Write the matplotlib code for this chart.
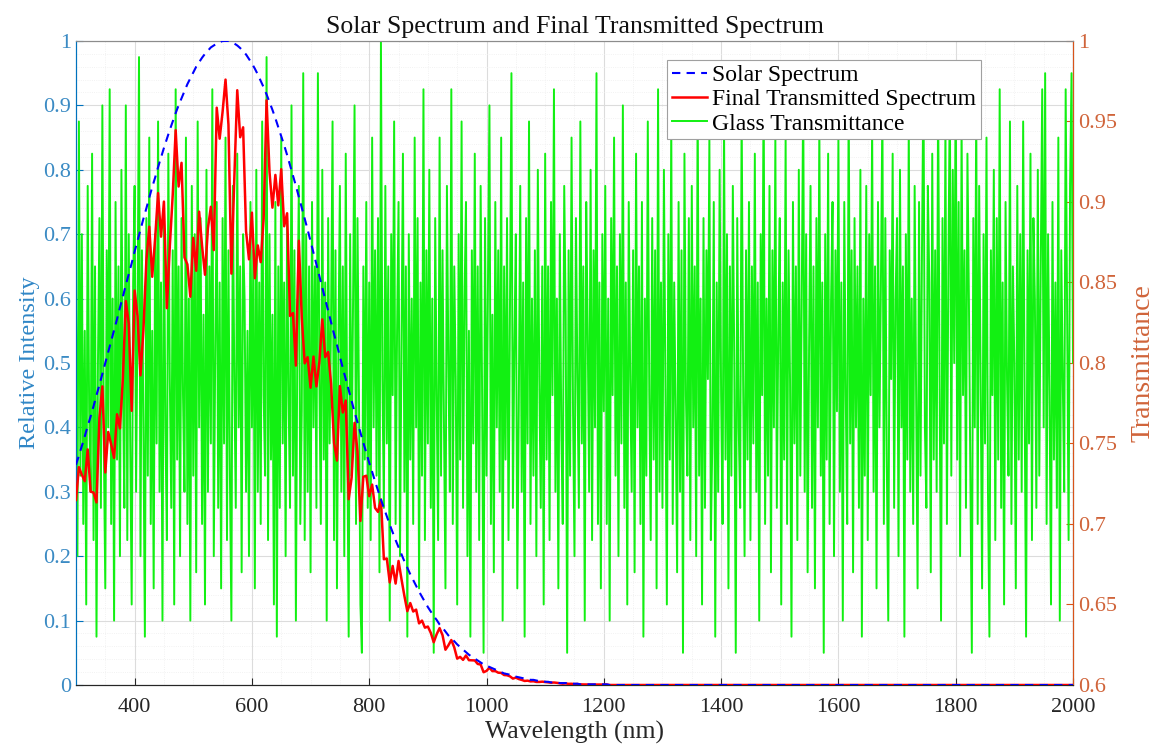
import numpy as np
import matplotlib.pyplot as plt
from matplotlib.ticker import MultipleLocator, FormatStrFormatter

plt.rcParams['font.family'] = ['Liberation Serif', 'DejaVu Serif']

# wavelength grids: 5 nm for the spectra, 2.5 nm for the glass trace
wavelength = np.arange(300, 2001, 5)
wavelength_fine = np.arange(300, 2000.1, 2.5)

# relative solar intensity (300..2000 nm, 5 nm steps)
solar = [
    0.342, 0.356, 0.371, 0.386, 0.402, 0.417, 0.433, 0.450, 0.466, 0.483,
    0.500, 0.517, 0.534, 0.551, 0.568, 0.586, 0.603, 0.621, 0.638, 0.655,
    0.673, 0.690, 0.707, 0.724, 0.740, 0.757, 0.773, 0.788, 0.804, 0.819,
    0.834, 0.848, 0.862, 0.875, 0.888, 0.900, 0.911, 0.922, 0.933, 0.942,
    0.951, 0.960, 0.967, 0.974, 0.980, 0.985, 0.990, 0.993, 0.996, 0.998,
    1.000, 1.000, 1.000, 0.998, 0.996, 0.993, 0.989, 0.984, 0.979, 0.972,
    0.965, 0.957, 0.948, 0.938, 0.928, 0.917, 0.905, 0.893, 0.880, 0.866,
    0.852, 0.838, 0.823, 0.807, 0.791, 0.775, 0.758, 0.741, 0.724, 0.707,
    0.689, 0.671, 0.653, 0.635, 0.617, 0.599, 0.581, 0.563, 0.545, 0.528,
    0.510, 0.492, 0.475, 0.458, 0.441, 0.424, 0.408, 0.392, 0.376, 0.361,
    0.345, 0.331, 0.316, 0.302, 0.288, 0.275, 0.262, 0.249, 0.237, 0.225,
    0.214, 0.203, 0.192, 0.182, 0.172, 0.163, 0.154, 0.145, 0.137, 0.129,
    0.121, 0.114, 0.107, 0.101, 0.094, 0.089, 0.083, 0.077, 0.072, 0.068,
    0.063, 0.059, 0.055, 0.051, 0.047, 0.044, 0.041, 0.038, 0.035, 0.032,
    0.030, 0.028, 0.026, 0.024, 0.022, 0.020, 0.018, 0.017, 0.016, 0.014,
    0.013, 0.012, 0.011, 0.010, 0.009, 0.008, 0.008, 0.007, 0.006, 0.006,
    0.005, 0.005, 0.004, 0.004, 0.004, 0.003, 0.003, 0.003, 0.002, 0.002,
    0.002, 0.002, 0.001, 0.001, 0.001, 0.001, 0.001, 0.001, 0.001, 0.001,
    0.001, 0.001, 0.000, 0.000, 0.000, 0.000, 0.000, 0.000, 0.000, 0.000,
    0, 0, 0, 0, 0, 0, 0, 0, 0, 0, 0, 0, 0, 0, 0, 0, 0, 0, 0, 0,
    0, 0, 0, 0, 0, 0, 0, 0, 0, 0, 0, 0, 0, 0, 0, 0, 0, 0, 0, 0,
    0, 0, 0, 0, 0, 0, 0, 0, 0, 0, 0, 0, 0, 0, 0, 0, 0, 0, 0, 0,
    0, 0, 0, 0, 0, 0, 0, 0, 0, 0, 0, 0, 0, 0, 0, 0, 0, 0, 0, 0,
    0, 0, 0, 0, 0, 0, 0, 0, 0, 0, 0, 0, 0, 0, 0, 0, 0, 0, 0, 0,
    0, 0, 0, 0, 0, 0, 0, 0, 0, 0, 0, 0, 0, 0, 0, 0, 0, 0, 0, 0,
    0, 0, 0, 0, 0, 0, 0, 0, 0, 0, 0, 0, 0, 0, 0, 0, 0, 0, 0, 0,
    0, 0, 0, 0, 0, 0, 0, 0, 0, 0, 0,
]

# glass transmittance (noisy), estimated from the green trace, 2.5 nm steps
transmittance = [
    0.84, 0.68, 0.95, 0.73, 0.88, 0.70, 0.82, 0.65, 0.91, 0.77, 0.72, 0.93, 0.69, 0.86, 0.63, 0.80, 0.89, 0.71, 0.96, 0.75,  # 300
    0.66, 0.87, 0.76, 0.97, 0.70, 0.84, 0.64, 0.90, 0.74, 0.86, 0.68, 0.92, 0.79, 0.71, 0.96, 0.69, 0.88, 0.75, 0.65, 0.85,  # 350
    0.91, 0.72, 0.83, 0.99, 0.68, 0.87, 0.76, 0.63, 0.89, 0.73, 0.94, 0.70, 0.82, 0.66, 0.88, 0.75, 0.95, 0.72, 0.85, 0.64,  # 400
    0.90, 0.76, 0.69, 0.93, 0.79, 0.71, 0.87, 0.65, 0.97, 0.74, 0.86, 0.68, 0.89, 0.78, 0.72, 0.94, 0.70, 0.84, 0.64, 0.91,  # 450
    0.73, 0.88, 0.67, 0.95, 0.76, 0.89, 0.70, 0.83, 0.65, 0.92, 0.72, 0.86, 0.75, 0.97, 0.68, 0.81, 0.90, 0.71, 0.85, 0.66,  # 500
    0.89, 0.75, 0.94, 0.69, 0.87, 0.73, 0.64, 0.91, 0.79, 0.71, 0.93, 0.76, 0.86, 0.67, 0.88, 0.84, 0.72, 0.82, 0.68, 0.90,  # 550
    0.76, 0.87, 0.66, 0.92, 0.72, 0.85, 0.70, 0.95, 0.78, 0.73, 0.99, 0.69, 0.88, 0.74, 0.83, 0.65, 0.90, 0.63, 0.86, 0.71,  # 600
    0.94, 0.75, 0.85, 0.68, 0.89, 0.78, 0.71, 0.96, 0.73, 0.87, 0.64, 0.82, 0.91, 0.70, 0.77, 0.98, 0.69, 0.88, 0.72, 0.86,  # 650
    0.67, 0.90, 0.76, 0.86, 0.71, 0.98, 0.79, 0.70, 0.92, 0.74, 0.85, 0.64, 0.89, 0.75, 0.83, 0.95, 0.69, 0.87, 0.66, 0.81,  # 700
    0.91, 0.72, 0.86, 0.68, 0.93, 0.76, 0.63, 0.88, 0.73, 0.84, 0.96, 0.70, 0.89, 0.78, 0.65, 0.62, 0.86, 0.74, 0.90, 0.71,  # 750
    0.85, 0.69, 0.94, 0.76, 0.87, 0.73, 0.89, 0.67, 1.00, 0.79, 0.71, 0.91, 0.75, 0.86, 0.64, 0.88, 0.78, 0.95, 0.70, 0.82,  # 800
    0.90, 0.68, 0.81, 0.93, 0.72, 0.86, 0.63, 0.88, 0.74, 0.84, 0.70, 0.94, 0.76, 0.89, 0.66, 0.85, 0.73, 0.97, 0.69, 0.87,  # 850
    0.75, 0.92, 0.71, 0.84, 0.62, 0.89, 0.78, 0.69, 0.94, 0.73, 0.87, 0.76, 0.66, 0.91, 0.80, 0.72, 0.97, 0.70, 0.86, 0.79,  # 900
    0.65, 0.88, 0.74, 0.95, 0.71, 0.84, 0.90, 0.68, 0.82, 0.63, 0.87, 0.75, 0.93, 0.72, 0.86, 0.69, 0.91, 0.78, 0.62, 0.89,  # 950
    0.73, 0.85, 0.96, 0.70, 0.83, 0.67, 0.90, 0.76, 0.87, 0.72, 0.94, 0.64, 0.86, 0.74, 0.89, 0.69, 0.84, 0.98, 0.71, 0.81,  # 1000
    0.88, 0.66, 0.77, 0.91, 0.72, 0.85, 0.63, 0.89, 0.75, 0.95, 0.70, 0.84, 0.73, 0.87, 0.68, 0.92, 0.79, 0.71, 0.86, 0.65,  # 1050
    0.93, 0.74, 0.86, 0.69, 0.90, 0.78, 0.97, 0.72, 0.84, 0.66, 0.88, 0.76, 0.70, 0.91, 0.83, 0.62, 0.87, 0.73, 0.94, 0.77,  # 1100
    0.68, 0.89, 0.79, 0.71, 0.95, 0.75, 0.86, 0.64, 0.90, 0.82, 0.72, 0.92, 0.69, 0.87, 0.76, 0.98, 0.70, 0.85, 0.66, 0.88,  # 1150
    0.77, 0.91, 0.70, 0.84, 0.64, 0.89, 0.78, 0.94, 0.73, 0.86, 0.68, 0.88, 0.75, 0.96, 0.71, 0.85, 0.65, 0.90, 0.79, 0.72,  # 1200
    0.87, 0.67, 0.93, 0.76, 0.86, 0.70, 0.90, 0.63, 0.84, 0.73, 0.95, 0.78, 0.69, 0.89, 0.74, 0.87, 0.66, 0.97, 0.72, 0.85,  # 1250
    0.71, 0.92, 0.79, 0.65, 0.88, 0.74, 0.95, 0.70, 0.85, 0.77, 0.67, 0.90, 0.72, 0.87, 0.62, 0.93, 0.78, 0.73, 0.89, 0.69,  # 1300
    0.91, 0.76, 0.86, 0.68, 0.97, 0.73, 0.84, 0.65, 0.89, 0.71, 0.87, 0.79, 0.94, 0.69, 0.75, 0.90, 0.63, 0.85, 0.72, 0.92,  # 1350
    0.78, 0.70, 0.95, 0.74, 0.88, 0.66, 0.86, 0.73, 0.91, 0.80, 0.62, 0.89, 0.76, 0.71, 0.96, 0.79, 0.68, 0.87, 0.74, 0.90,  # 1400
    0.69, 0.86, 0.75, 0.93, 0.72, 0.85, 0.64, 0.88, 0.78, 0.98, 0.70, 0.84, 0.73, 0.91, 0.67, 0.87, 0.76, 0.94, 0.71, 0.82,  # 1450
    0.89, 0.65, 0.85, 0.74, 0.94, 0.70, 0.87, 0.79, 0.63, 0.90, 0.75, 0.86, 0.69, 0.92, 0.73, 0.84, 0.97, 0.72, 0.88, 0.67,  # 1500
    0.81, 0.91, 0.71, 0.86, 0.66, 0.89, 0.76, 0.95, 0.73, 0.85, 0.62, 0.88, 0.74, 0.93, 0.70, 0.84, 0.90, 0.68, 0.87, 0.77,  # 1550
    0.94, 0.72, 0.85, 0.64, 0.90, 0.78, 0.70, 0.97, 0.75, 0.87, 0.67, 0.89, 0.76, 0.86, 0.71, 0.92, 0.63, 0.84, 0.73, 0.91,  # 1600
    0.69, 0.88, 0.78, 0.95, 0.72, 0.86, 0.66, 0.90, 0.76, 0.85, 0.96, 0.70, 0.89, 0.74, 0.64, 0.87, 0.79, 0.93, 0.71, 0.84,  # 1650
    0.89, 0.68, 0.92, 0.76, 0.86, 0.63, 0.88, 0.74, 0.95, 0.72, 0.84, 0.70, 0.91, 0.78, 0.66, 0.90, 0.73, 0.87, 0.98, 0.76,  # 1700
    0.71, 0.91, 0.85, 0.67, 0.93, 0.74, 0.87, 0.72, 0.97, 0.79, 0.64, 0.89, 0.75, 0.95, 0.70, 0.86, 0.97, 0.73, 0.92, 0.80,  # 1750
    0.98, 0.74, 0.90, 0.68, 0.95, 0.78, 0.87, 0.71, 0.93, 0.84, 0.73, 0.62, 0.89, 0.76, 0.96, 0.70, 0.91, 0.79, 0.66, 0.88,  # 1800
    0.75, 0.94, 0.72, 0.63, 0.87, 0.78, 0.92, 0.69, 0.89, 0.74, 0.97, 0.71, 0.85, 0.65, 0.90, 0.79, 0.73, 0.95, 0.70, 0.86,  # 1850
    0.80, 0.66, 0.91, 0.74, 0.88, 0.72, 0.95, 0.78, 0.63, 0.87, 0.75, 0.93, 0.69, 0.89, 0.84, 0.71, 0.92, 0.73, 0.86, 0.97,  # 1900
    0.76, 0.98, 0.70, 0.88, 0.78, 0.65, 0.90, 0.74, 0.85, 0.71, 0.94, 0.64, 0.87, 0.79, 0.72, 0.97, 0.83, 0.69, 0.91, 0.98,  # 1950
    0.80,
]

solar = np.array(solar)
transmittance = np.array(transmittance)
# transmitted spectrum = solar intensity x glass transmittance (on the 5 nm grid)
final = solar * transmittance[::2]

blue_axis = '#0072BD'
orange_axis = '#D95319'

fig, ax = plt.subplots(figsize=(11.58, 7.53), dpi=100)
fig.subplots_adjust(left=0.0656, right=0.9266, top=0.9456, bottom=0.0903)

ax.set_xlim(300, 2000)
ax.set_ylim(0, 1)
ax.xaxis.set_major_locator(MultipleLocator(200))
ax.xaxis.set_minor_locator(MultipleLocator(50))
ax.yaxis.set_major_locator(MultipleLocator(0.1))
ax.yaxis.set_minor_locator(MultipleLocator(0.02))
ax.yaxis.set_major_formatter(FormatStrFormatter('%g'))
ax.grid(True, which='major', color='#dcdcdc', lw=0.8)
ax.grid(True, which='minor', color='#eeeeee', lw=0.6, ls=':')
ax.set_axisbelow(True)

ax2 = ax.twinx()
ax2.set_ylim(0.6, 1)
l3, = ax2.plot(wavelength_fine, transmittance, '-', color='#12f012', lw=1.4,
               label='Glass Transmittance', zorder=2)
# spectra drawn on the top axes but in left-axis data units, so they sit over the green
l2, = ax2.plot(wavelength, final, '-', color='#ff0000', lw=1.8,
               label='Final Transmitted Spectrum', transform=ax.transData, zorder=3)
l1, = ax2.plot(wavelength, solar, '--', color='#0000ff', lw=1.5, dashes=(4, 3),
               label='Solar Spectrum', transform=ax.transData, zorder=4)
ax2.set_xlim(300, 2000)
ax2.set_ylim(0.6, 1)
ax2.yaxis.set_major_locator(MultipleLocator(0.05))
ax2.yaxis.set_major_formatter(FormatStrFormatter('%g'))

for a in (ax, ax2):
    a.tick_params(direction='in', which='both', length=5, top=False)
    a.tick_params(which='minor', length=0)
ax.tick_params(axis='x', colors='#262626', labelsize=16, pad=9)
ax.tick_params(axis='y', colors=blue_axis, labelsize=16, labelcolor='#3b8bc4')
ax2.tick_params(axis='y', colors=orange_axis, labelsize=16, labelcolor='#d0643a')

ax.spines['left'].set_color(blue_axis)
ax2.spines['left'].set_color(blue_axis)
ax2.spines['right'].set_color(orange_axis)
for a in (ax, ax2):
    a.spines['top'].set_color('#8c8c8c')
    a.spines['bottom'].set_color('#262626')
    for s in a.spines.values():
        s.set_linewidth(0.8)

ax.set_xlabel('Wavelength (nm)', fontsize=18.5, color='#262626', labelpad=3)
ax.set_ylabel('Relative Intensity', fontsize=17.5, color='#2f86c6', labelpad=2)
ax2.set_ylabel('Transmittance', fontsize=20, color='#d0643a', labelpad=10)
ax.set_title('Solar Spectrum and Final Transmitted Spectrum', fontsize=18.5,
             color='#111111', pad=6)

leg = ax2.legend(handles=[l1, l2, l3], loc='upper left',
                 bbox_to_anchor=(0.593, 0.971), fontsize=17, frameon=True,
                 fancybox=False, edgecolor='#a0a0a0', framealpha=1,
                 handlelength=1.5, handletextpad=0.2, borderpad=0.2,
                 labelspacing=0.12, borderaxespad=0)
leg.get_frame().set_linewidth(0.8)
leg.set_zorder(10)

fig.savefig('out.png', dpi=100)
